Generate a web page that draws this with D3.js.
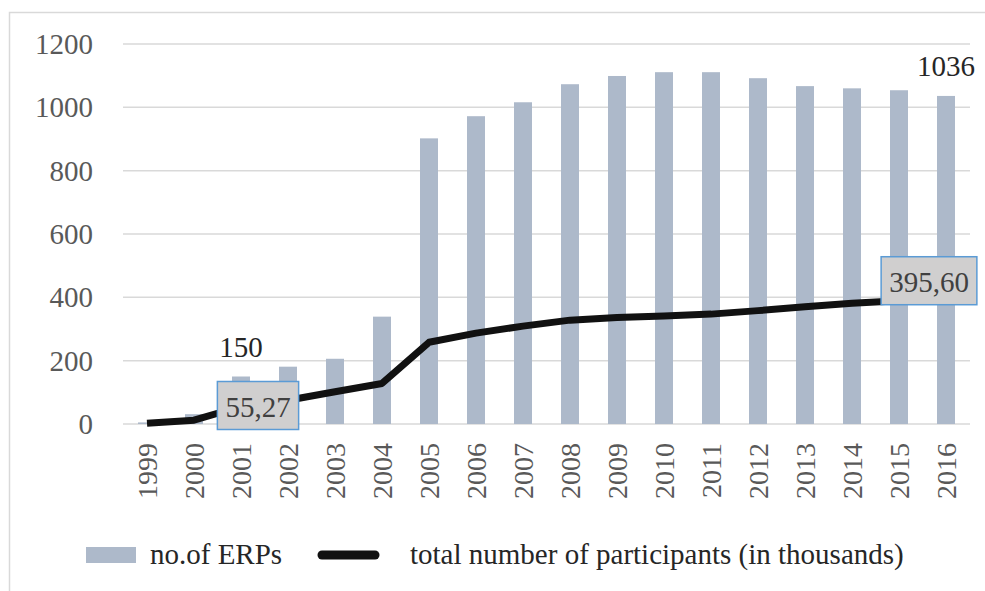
<!DOCTYPE html>
<html>
<head>
<meta charset="utf-8">
<script src="https://cdn.jsdelivr.net/npm/d3@7"></script>
<style>
  body { margin:0; background:#fff; }
</style>
</head>
<body>
<div id="main"></div>
<script>
var years = ["1999","2000","2001","2002","2003","2004","2005","2006","2007","2008","2009","2010","2011","2012","2013","2014","2015","2016"];
var erps = [5,31,150,181,206,339,902,972,1016,1073,1099,1111,1111,1092,1067,1060,1054,1036];
var participants = [2,12,55.27,75,102,128,258,287,309,328,336,341,347,358,370,381,389,395.60];
var yTicks = [0,200,400,600,800,1000,1200];
var barLabels = [{year:"2001",text:"150"},{year:"2016",text:"1036"}];
var lineLabels = [{year:"2001",text:"55,27",dx:17,dy:-1},{year:"2016",text:"395,60",dx:-17,dy:-18}];
var legendNames = ["no.of ERPs","total number of participants (in thousands)"];

var FONT = "Liberation Serif, DejaVu Serif, serif";
var width = 985, height = 591;
var svg = d3.select("#main").append("svg")
    .attr("width", width)
    .attr("height", height)
    .style("font-family", FONT);

// light frame around the chart
svg.append("rect")
    .attr("x", 9.5).attr("y", 12.5)
    .attr("width", 1000).attr("height", 600)
    .attr("fill", "none")
    .attr("stroke", "#d9d9d9")
    .attr("stroke-width", 1.5);

var x = d3.scaleBand()
    .domain(years)
    .range([123.5, 969.5])
    .paddingInner(0.617)
    .paddingOuter(0.3085);
var y = d3.scaleLinear().domain([0, 1200]).range([424, 44]);

function cx(yr) { return x(yr) + x.bandwidth() / 2; }

// grid + y labels
svg.append("g").selectAll("line")
    .data(yTicks).enter().append("line")
    .attr("x1", 123).attr("x2", 970)
    .attr("y1", function(d) { return y(d); })
    .attr("y2", function(d) { return y(d); })
    .attr("stroke", "#d9d9d9")
    .attr("stroke-width", 1.5);

svg.append("g").selectAll("text")
    .data(yTicks).enter().append("text")
    .attr("x", 93)
    .attr("y", function(d) { return y(d); })
    .attr("dy", "0.35em")
    .attr("text-anchor", "end")
    .attr("font-size", 29)
    .attr("fill", "#595959")
    .text(function(d) { return d; });

// bars
svg.append("g").selectAll("rect")
    .data(erps).enter().append("rect")
    .attr("x", function(d, i) { return x(years[i]); })
    .attr("y", function(d) { return y(d); })
    .attr("width", x.bandwidth())
    .attr("height", function(d) { return y(0) - y(d); })
    .attr("fill", "#adb9ca");

// x labels, rotated
svg.append("g").selectAll("text")
    .data(years).enter().append("text")
    .attr("transform", function(d) { return "translate(" + cx(d) + ",443) rotate(-90)"; })
    .attr("dy", "0.35em")
    .attr("text-anchor", "end")
    .attr("font-size", 28)
    .attr("fill", "#595959")
    .text(function(d) { return d; });

// participants line
var line = d3.line()
    .x(function(d, i) { return cx(years[i]); })
    .y(function(d) { return y(d); });
svg.append("path")
    .datum(participants)
    .attr("d", line)
    .attr("fill", "none")
    .attr("stroke", "#111")
    .attr("stroke-width", 7)
    .attr("stroke-linejoin", "round");

// value labels over bars
svg.append("g").selectAll("text")
    .data(barLabels).enter().append("text")
    .attr("x", function(d) { return cx(d.year); })
    .attr("y", function(d) { return y(erps[years.indexOf(d.year)]) - 20; })
    .attr("text-anchor", "middle")
    .attr("font-size", 29)
    .attr("fill", "#262626")
    .text(function(d) { return d.text; });

// boxed labels on the line
var lab = svg.append("g").selectAll("g")
    .data(lineLabels).enter().append("g")
    .attr("transform", function(d) {
        var px = cx(d.year) + d.dx, py = y(participants[years.indexOf(d.year)]) + d.dy;
        return "translate(" + px + "," + py + ")";
    });
lab.append("text")
    .attr("text-anchor", "middle")
    .attr("dy", "0.38em")
    .attr("font-size", 29)
    .attr("fill", "#404040")
    .text(function(d) { return d.text; });
lab.insert("rect", "text")
    .each(function() {
        var bb = this.parentNode.querySelector("text").getBBox();
        d3.select(this)
            .attr("x", bb.x - 8).attr("y", -24)
            .attr("width", bb.width + 16).attr("height", 48);
    })
    .attr("fill", "#d0cfcf")
    .attr("stroke", "#5b9bd5")
    .attr("stroke-width", 1.5);

// legend
var lg = svg.append("g");
lg.append("rect")
    .attr("x", 86).attr("y", 547)
    .attr("width", 50).attr("height", 16)
    .attr("fill", "#adb9ca");
lg.append("text")
    .attr("x", 150).attr("y", 564)
    .attr("font-size", 29).attr("fill", "#262626")
    .text(legendNames[0]);
lg.append("line")
    .attr("x1", 322).attr("x2", 375)
    .attr("y1", 555).attr("y2", 555)
    .attr("stroke", "#111").attr("stroke-width", 9)
    .attr("stroke-linecap", "round");
lg.append("text")
    .attr("x", 410).attr("y", 564)
    .attr("font-size", 29).attr("fill", "#262626")
    .text(legendNames[1]);
</script>
</body>
</html>
